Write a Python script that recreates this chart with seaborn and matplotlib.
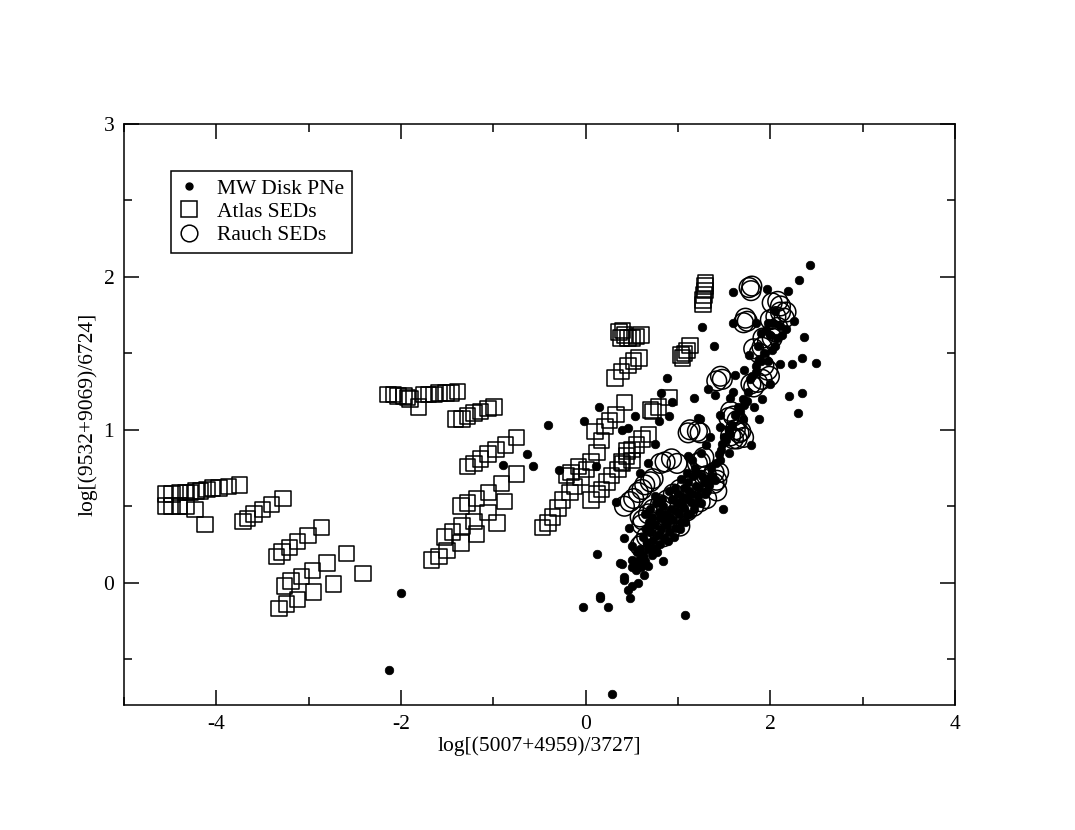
import matplotlib
matplotlib.use("Agg")
import matplotlib.pyplot as plt
import seaborn as sns
import pandas as pd
from matplotlib.ticker import MultipleLocator
from matplotlib.lines import Line2D

# ---------------- data ----------------
pne_x = [-2.13, -2.00, 0.29, -0.03, 0.16, 0.24, 0.12,
         0.39, 0.41, 0.46, 0.48, 0.50, 0.41, 0.50, 0.50, 0.64, 0.68, 0.84, 0.47, 0.42, 0.50, 0.59, 0.62,
         0.75, 1.11, 0.68, 0.59, 0.33, 0.75, 1.49, 0.52, 0.62,
         2.43, 2.31, 2.19, 1.96, 1.60, 1.26, 1.39, 1.60, 1.84, 2.26, 2.36, 2.49, 2.34, 2.23, 2.11, 1.88,
         1.77, 1.71, 1.62, 1.33, 1.40, 2.20, 2.34, 2.30, 1.56, 1.82, 1.91, 1.88, 1.75, 1.24, 1.70, 1.79,
         1.46, 1.48,
         0.88, 1.17, 0.82, 0.93, 0.90, 0.79, 1.22, 0.53, 0.14, -0.02, -0.41, 0.39, 0.46, -0.63, -0.57,
         -0.29, 0.11, -0.90,
         0.37, 0.15, 1.08,
         0.62, 0.66, 0.70, 0.73, 0.75, 0.78, 0.80, 0.82, 0.85, 0.87, 0.88, 0.90, 0.92, 0.95, 0.97, 0.99,
         1.01, 1.03, 1.05, 1.07, 1.10, 1.12, 1.14, 1.17, 1.19, 1.22, 1.25, 1.28, 1.31, 1.34, 1.37, 1.40,
         0.68, 0.72, 0.58, 0.55, 0.64, 0.70, 0.76, 0.83, 0.90, 0.97, 1.03, 1.10, 1.18,
         1.95, 2.05, 1.90, 1.85, 2.00, 1.70, 1.65, 1.55, 1.50, 2.10, 2.05, 1.78, 1.60, 1.45, 1.35, 1.30,
         1.45, 1.55, 1.25, 1.15, 1.20,
         0.56, 0.60, 0.63, 0.57, 0.65, 0.69, 0.72, 0.74, 0.77, 0.79, 0.81, 0.84, 0.86, 0.89, 0.91, 0.93,
         0.96, 0.98, 1.00, 1.02, 1.04, 1.06, 1.08, 1.09, 1.11, 1.13, 1.15, 1.16, 1.20, 1.23, 1.26, 1.29,
         1.33, 1.36, 1.41, 1.44, 1.47, 1.52, 1.56, 1.58, 1.62, 1.67, 1.72, 1.76, 1.80, 1.84, 1.87, 1.93,
         1.98, 2.02, 2.07, 2.13, 2.17, 2.00, 1.97, 2.03, 1.90]
pne_y = [-0.57, -0.07, -0.73, -0.16, -0.10, -0.16, 0.19,
         0.12, 0.04, -0.05, -0.10, -0.02, 0.02, 0.10, 0.15, 0.14, 0.11, 0.14, 0.36, 0.29, 0.24, 0.22, 0.18,
         0.91, 0.83, 0.78, 0.72, 0.53, 0.57, 0.48, 0.11, 0.17,
         2.08, 1.98, 1.91, 1.92, 1.90, 1.67, 1.55, 1.70, 1.70, 1.71, 1.61, 1.44, 1.47, 1.43, 1.43, 1.46,
         1.49, 1.39, 1.36, 1.27, 1.23, 1.22, 1.24, 1.11, 1.21, 1.15, 1.20, 1.07, 1.19, 1.07, 1.07, 0.90,
         1.02, 0.91,
         1.34, 1.21, 1.24, 1.18, 1.09, 1.06, 1.08, 1.09, 1.15, 1.06, 1.03, 1.00, 1.01, 0.84, 0.76,
         0.74, 0.76, 0.77,
         0.13, -0.09, -0.21,
         0.30, 0.26, 0.33, 0.28, 0.38, 0.31, 0.42, 0.35, 0.29, 0.45, 0.38, 0.33, 0.48, 0.41, 0.36, 0.52,
         0.45, 0.40, 0.56, 0.49, 0.44, 0.60, 0.53, 0.48, 0.63, 0.57, 0.52, 0.66, 0.60, 0.64, 0.70, 0.67,
         0.22, 0.18, 0.15, 0.08, 0.45, 0.48, 0.52, 0.55, 0.60, 0.62, 0.68, 0.72, 0.75,
         1.65, 1.55, 1.45, 1.38, 1.30, 1.20, 1.15, 1.00, 0.95, 1.68, 1.78, 1.33, 1.25, 1.10, 0.95, 0.90,
         0.80, 0.85, 0.85, 0.80, 0.72,
         0.20, 0.10, 0.05, 0.00, 0.35, 0.40, 0.43, 0.23, 0.20, 0.46, 0.25, 0.50, 0.40, 0.27, 0.43, 0.55,
         0.30, 0.47, 0.58, 0.35, 0.51, 0.62, 0.40, 0.55, 0.66, 0.45, 0.58, 0.70, 0.52, 0.62, 0.70, 0.58,
         0.68, 0.75, 0.78, 0.84, 0.87, 0.93, 0.97, 1.03, 1.10, 1.12, 1.16, 1.25, 1.35, 1.42, 1.55, 1.50,
         1.45, 1.52, 1.60, 1.62, 1.66, 1.62, 1.70, 1.70, 1.63]

atlas_x = [-4.55, -4.48, -4.40, -4.33, -4.28, -4.22, -4.17, -4.10, -4.04, -3.97, -3.87, -3.75,
           -4.55, -4.48, -4.40, -4.33, -4.23, -4.12,
           -3.71, -3.66, -3.59, -3.50, -3.40, -3.28,
           -3.35, -3.29, -3.21, -3.12, -3.01, -2.86,
           -3.26, -3.19, -3.08, -2.96, -2.80, -2.59, -2.41, -2.73, -2.95, -3.12, -3.24, -3.32,
           -2.14, -2.08, -2.03, -1.97, -1.93, -1.90, -1.81, -1.75, -1.70, -1.64, -1.59, -1.51, -1.46, -1.39,
           -1.41, -1.34, -1.28, -1.21, -1.14, -1.06, -0.99,
           -1.28, -1.21, -1.14, -1.06, -0.97, -0.87, -0.75,
           -1.67, -1.59, -1.50, -1.53, -1.44, -1.34, -1.35, -1.28, -1.18, -1.05, -0.91, -0.75,
           -1.35, -1.18, -1.06, -0.96, -0.88, -1.21,
           -0.47, -0.41, -0.36, -0.30, -0.25, -0.17, -0.12, -0.05, 0.01, 0.06, 0.12, 0.17, 0.10, 0.21,
           0.26, 0.33, 0.42,
           0.06, 0.12, 0.17, 0.23, 0.28, 0.35, 0.39, 0.44, 0.50, 0.55, 0.61, 0.68,
           -0.21, -0.16, -0.08, 0.40, 0.45, 0.50,
           0.32, 0.39, 0.46, 0.52, 0.58,
           0.36, 0.40, 0.42, 0.46, 0.50, 0.55, 0.60, 0.38,
           1.27, 1.27, 1.28, 1.29, 1.29, 1.30,
           1.03, 1.07, 1.10, 1.13, 1.05,
           0.70, 0.73, 0.79, 0.90]
atlas_y = [0.58, 0.58, 0.59, 0.59, 0.59, 0.60, 0.60, 0.61, 0.62, 0.62, 0.63, 0.64,
           0.50, 0.50, 0.50, 0.50, 0.48, 0.38,
           0.40, 0.42, 0.45, 0.48, 0.51, 0.55,
           0.17, 0.20, 0.23, 0.27, 0.31, 0.36,
           -0.02, 0.01, 0.04, 0.08, 0.13, 0.19, 0.06, -0.01, -0.06, -0.11, -0.14, -0.17,
           1.23, 1.23, 1.22, 1.22, 1.21, 1.20, 1.15, 1.23, 1.23, 1.23, 1.24, 1.24, 1.24, 1.25,
           1.07, 1.07, 1.09, 1.11, 1.12, 1.14, 1.15,
           0.76, 0.78, 0.81, 0.84, 0.87, 0.90, 0.95,
           0.15, 0.17, 0.21, 0.30, 0.33, 0.37, 0.50, 0.52, 0.55, 0.59, 0.65, 0.71,
           0.26, 0.32, 0.46, 0.39, 0.53, 0.40,
           0.36, 0.39, 0.43, 0.49, 0.54, 0.59, 0.63, 0.69, 0.74, 0.79, 0.85, 0.93, 0.99, 1.02,
           1.06, 1.10, 1.18,
           0.54, 0.58, 0.61, 0.66, 0.70, 0.74, 0.79, 0.83, 0.87, 0.90, 0.94, 0.97,
           0.70, 0.72, 0.76, 0.78, 0.86, 0.80,
           1.34, 1.38, 1.42, 1.45, 1.47,
           1.64, 1.65, 1.62, 1.60, 1.60, 1.61, 1.62, 1.60,
           1.82, 1.85, 1.88, 1.91, 1.94, 1.96,
           1.49, 1.50, 1.52, 1.55, 1.47,
           1.13, 1.12, 1.15, 1.21]

rauch_x = [0.42, 0.48, 0.52, 0.57, 0.61, 0.64, 0.70, 0.73,
           0.81, 0.86, 0.93, 0.99,
           1.11, 1.21, 1.24, 1.13,
           1.24, 1.28, 1.21,
           1.42, 1.39, 1.44,
           1.60, 1.57, 1.66, 1.71, 1.62, 1.68, 1.64,
           0.62, 0.68, 0.73, 0.81, 0.88, 0.95, 1.02, 1.10, 1.17, 1.24, 1.31, 1.39,
           0.66, 0.73, 0.81, 0.88, 0.95, 1.02, 1.10, 1.17, 1.24, 1.31, 1.42,
           0.59, 0.62, 0.73, 0.84, 0.92, 1.02, 0.61, 0.59,
           1.77, 1.80, 1.79,
           2.02, 2.08, 2.11, 2.17, 2.15,
           1.73, 1.75, 1.71,
           2.08, 2.06, 2.02, 1.97, 1.91, 1.88, 1.82, 1.92,
           2.00, 2.06, 2.11,
           1.93, 1.97, 1.99, 1.91,
           1.79, 1.82, 1.86,
           1.46, 1.48, 1.42,
           1.57, 1.60, 1.64, 1.55]
rauch_y = [0.50, 0.53, 0.55, 0.59, 0.61, 0.64, 0.66, 0.68,
           0.78, 0.79, 0.81, 0.78,
           0.98, 0.99, 0.98, 1.00,
           0.79, 0.82, 0.78,
           0.67, 0.65, 0.72,
           0.94, 0.96, 0.98, 0.95, 1.00, 0.99, 0.94,
           0.41, 0.45, 0.48, 0.51, 0.54, 0.58, 0.61, 0.63, 0.65, 0.67, 0.70, 0.72,
           0.30, 0.34, 0.36, 0.38, 0.41, 0.45, 0.47, 0.50, 0.53, 0.55, 0.60,
           0.24, 0.26, 0.27, 0.30, 0.35, 0.37, 0.38, 0.43,
           1.93, 1.94, 1.91,
           1.83, 1.84, 1.81, 1.77, 1.73,
           1.73, 1.71, 1.70,
           1.67, 1.64, 1.60, 1.58, 1.54, 1.50, 1.53, 1.60,
           1.72, 1.74, 1.77,
           1.42, 1.39, 1.35, 1.33,
           1.30, 1.28, 1.31,
           1.35, 1.33, 1.32,
           1.12, 1.09, 1.06, 1.08]

x_ticks = [-4, -2, 0, 2, 4]
y_ticks = [0, 1, 2, 3]
x_label = "log[(5007+4959)/3727]"
y_label = "log[(9532+9069)/6724]"
series_names = ["MW Disk PNe", "Atlas SEDs", "Rauch SEDs"]

# ---------------- plot ----------------
sns.set_theme(style="white")
plt.rcParams["font.family"] = ["Liberation Serif", "DejaVu Serif"]
for k in ["text.color", "axes.labelcolor", "xtick.color", "ytick.color", "axes.edgecolor"]:
    plt.rcParams[k] = "black"

fig = plt.figure(figsize=(10.75, 8.30), dpi=100)
ax = fig.add_axes([124 / 1075, 1 - 705 / 830, (955 - 124) / 1075, (705 - 124) / 830])

df_p = pd.DataFrame({"x": pne_x, "y": pne_y})
df_a = pd.DataFrame({"x": atlas_x, "y": atlas_y})
df_r = pd.DataFrame({"x": rauch_x, "y": rauch_y})

sns.scatterplot(data=df_a, x="x", y="y", ax=ax, marker="s", s=125,
                facecolor="none", edgecolor="black", linewidth=1.1, zorder=2)
sns.scatterplot(data=df_r, x="x", y="y", ax=ax, marker="o", s=200,
                facecolor="none", edgecolor="black", linewidth=1.1, zorder=3)
sns.scatterplot(data=df_p, x="x", y="y", ax=ax, marker="o", s=38,
                color="black", edgecolor="black", linewidth=0.5, zorder=4)

ax.set_xlim(-5, 4)
ax.set_ylim(-0.8, 3)
ax.set_xticks(x_ticks)
ax.set_yticks(y_ticks)
ax.xaxis.set_minor_locator(MultipleLocator(1))
ax.yaxis.set_minor_locator(MultipleLocator(0.5))
ax.tick_params(which="both", direction="in", top=True, right=True,
               bottom=True, left=True, color="black", width=1.1,
               labelcolor="black")
ax.tick_params(which="major", length=11, labelsize=15.5, pad=7)
ax.tick_params(which="minor", length=6)
ax.set_xticklabels([f"{t}" for t in x_ticks])
for sp in ax.spines.values():
    sp.set_color("black")
    sp.set_linewidth(1.1)

ax.set_xlabel(x_label, fontsize=15.5, labelpad=2, color="black")
ax.set_ylabel(y_label, fontsize=15.5, labelpad=4, color="black")

handles = [
    Line2D([], [], linestyle="none", marker="o", markersize=5, color="black"),
    Line2D([], [], linestyle="none", marker="s", markersize=11, markerfacecolor="none",
           markeredgecolor="black", markeredgewidth=1.1),
    Line2D([], [], linestyle="none", marker="o", markersize=12, markerfacecolor="none",
           markeredgecolor="black", markeredgewidth=1.1),
]
leg = ax.legend(handles, series_names, loc="upper left",
                bbox_to_anchor=((171 - 124) / 831, (705 - 171) / 581),
                frameon=True, fancybox=False, framealpha=1, edgecolor="black",
                fontsize=15.5, handlelength=1.0, handletextpad=0.8,
                labelspacing=0.15, borderpad=0.35, borderaxespad=0)
leg.get_frame().set_linewidth(1.1)
for t in leg.get_texts():
    t.set_color("black")

fig.savefig("out.png", dpi=100)
